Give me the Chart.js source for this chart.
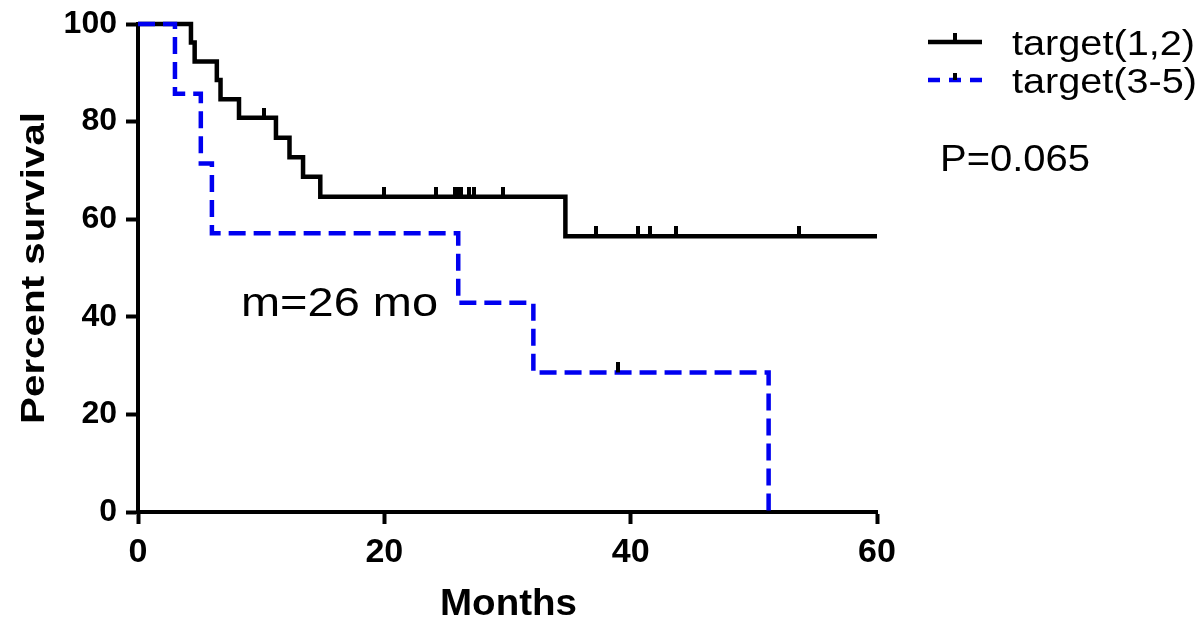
<!DOCTYPE html>
<html>
<head>
<meta charset="utf-8">
<script src="https://cdn.jsdelivr.net/npm/chart.js@4/dist/chart.umd.min.js"></script>
<style>
  body { margin: 0; background: #fff; }
  #wrap { width: 1200px; height: 627px; }
</style>
</head>
<body>
<div id="wrap"><canvas id="km" width="1200" height="627"></canvas></div>
<script>
// Kaplan-Meier steps (months, percent survival)
const grupo12Tempos = [0, 4.3, 4.6, 6.4, 6.7, 8.2, 11.2, 12.3, 13.4, 14.8, 34.7, 60];
const grupo12Sobrev = [100, 96.2, 92.3, 88.5, 84.6, 80.8, 76.7, 72.7, 68.7, 64.6, 56.5, 56.5];
const grupo12Censura = [10.2, 20.0, 24.2, 25.7, 26.0, 26.2, 26.9, 27.3, 29.6, 37.2, 40.6, 41.6, 43.7, 53.7];

const grupo35Tempos = [0, 3.0, 5.1, 6.0, 26.0, 32.1, 51.2];
const grupo35Sobrev = [100, 85.7, 71.4, 57.1, 42.9, 28.6, 0];
const grupo35Censura = [39.0];

const ticksX = [0, 20, 40, 60];
const ticksY = [0, 20, 40, 60, 80, 100];

const nomes = ['target(1,2)', 'target(3-5)'];
const textoP = 'P=0.065';
const textoMediana = 'm=26 mo';

const FONTE = '"Liberation Sans", Arial, sans-serif';
const AZUL = '#0000f0';

// valor da curva no tempo t (degrau)
function sobrevEm(tempos, sobrev, t) {
    let s = sobrev[0];
    for (let i = 0; i < tempos.length; i++) {
        if (tempos[i] <= t) s = sobrev[i];
    }
    return s;
}

function pontos(tempos, sobrev) {
    return tempos.map((t, i) => ({ x: t, y: sobrev[i] }));
}

function censuras(lista, tempos, sobrev) {
    return lista.map(t => ({ x: t, y: sobrevEm(tempos, sobrev, t) }));
}

// marca de censura: risquinho vertical só para cima
function marcaCensura() {
    const c = document.createElement('canvas');
    c.width = 4; c.height = 20;
    const g = c.getContext('2d');
    g.fillStyle = '#000';
    g.fillRect(0, 0, 4, 10);
    return c;
}
const marca = marcaCensura();

// texto esticado na horizontal para bater com a largura do original
function textoLargura(ctx, txt, x, y, fonte, largura) {
    ctx.save();
    ctx.font = fonte;
    const w = ctx.measureText(txt).width;
    ctx.translate(x, y);
    ctx.scale(largura / w, 1);
    ctx.textAlign = 'left';
    ctx.textBaseline = 'alphabetic';
    ctx.fillStyle = '#000';
    ctx.fillText(txt, 0, 0);
    ctx.restore();
}

const anotacoes = {
    id: 'anotacoes',
    afterDraw(chart) {
        const ctx = chart.ctx;
        const area = chart.chartArea;

        // titulo do eixo y (vertical)
        ctx.save();
        ctx.translate(44, (area.top + area.bottom) / 2);
        ctx.rotate(-Math.PI / 2);
        ctx.font = 'bold 34px ' + FONTE;
        const wy = ctx.measureText('Percent survival').width;
        ctx.scale(312 / wy, 1);
        ctx.textAlign = 'center';
        ctx.fillStyle = '#000';
        ctx.fillText('Percent survival', 0, 0);
        ctx.restore();

        // titulo do eixo x
        textoLargura(ctx, 'Months', 440, 615, 'bold 36px ' + FONTE, 137);

        // mediana
        textoLargura(ctx, textoMediana, 241, 316, '40px ' + FONTE, 197);

        // legenda
        const lx0 = 928, lx1 = 982;
        const linhas = [42, 80];
        ctx.save();
        ctx.lineWidth = 4.5;
        ctx.strokeStyle = '#000';
        ctx.beginPath();
        ctx.moveTo(lx0, linhas[0]); ctx.lineTo(lx1, linhas[0]);
        ctx.stroke();
        ctx.fillStyle = '#000';
        ctx.fillRect(953, linhas[0] - 9, 4, 9);

        ctx.strokeStyle = AZUL;
        ctx.setLineDash([12, 9]);
        ctx.beginPath();
        ctx.moveTo(lx0, linhas[1]); ctx.lineTo(lx1, linhas[1]);
        ctx.stroke();
        ctx.setLineDash([]);
        ctx.fillStyle = '#000';
        ctx.fillRect(953, linhas[1] - 7, 4, 7);
        ctx.restore();

        textoLargura(ctx, nomes[0], 1012, linhas[0] + 13, '35px ' + FONTE, 183);
        textoLargura(ctx, nomes[1], 1012, linhas[1] + 13, '35px ' + FONTE, 185);
        textoLargura(ctx, textoP, 940, 171, '36px ' + FONTE, 150);
    }
};

new Chart(document.getElementById('km'), {
    type: 'line',
    data: {
        datasets: [
            {
                label: nomes[1] + ' censura',
                type: 'scatter',
                data: censuras(grupo35Censura, grupo35Tempos, grupo35Sobrev),
                pointStyle: marca,
                clip: false,
                order: 0
            },
            {
                label: nomes[0] + ' censura',
                type: 'scatter',
                data: censuras(grupo12Censura, grupo12Tempos, grupo12Sobrev),
                pointStyle: marca,
                clip: false,
                order: 0
            },
            {
                label: nomes[1],
                data: pontos(grupo35Tempos, grupo35Sobrev),
                stepped: 'before',
                borderColor: AZUL,
                borderWidth: 4.5,
                borderDash: [17, 8],
                pointRadius: 0,
                fill: false,
                clip: false,
                order: 1
            },
            {
                label: nomes[0],
                data: pontos(grupo12Tempos, grupo12Sobrev),
                stepped: 'before',
                borderColor: '#000',
                borderWidth: 4.5,
                pointRadius: 0,
                fill: false,
                clip: false,
                order: 2
            }
        ]
    },
    options: {
        responsive: false,
        animation: false,
        devicePixelRatio: 1,
        layout: { padding: { top: 24, right: 323, left: 0, bottom: 0 } },
        plugins: {
            legend: { display: false },
            tooltip: { enabled: false }
        },
        scales: {
            x: {
                type: 'linear',
                min: 0,
                max: 60,
                afterFit: s => { s.height = 115; s.paddingLeft = 0; s.paddingRight = 0; },
                afterBuildTicks: s => { s.ticks = ticksX.map(v => ({ value: v })); },
                grid: { drawOnChartArea: false, drawTicks: true, tickLength: 12, tickWidth: 4, tickColor: '#000' },
                border: { color: '#000', width: 4 },
                ticks: { color: '#000', padding: 8, font: { family: FONTE, size: 34, weight: 'bold' } }
            },
            y: {
                min: 0,
                max: 100,
                afterFit: s => { s.width = 138; s.paddingTop = 0; s.paddingBottom = 0; },
                afterBuildTicks: s => { s.ticks = ticksY.map(v => ({ value: v })); },
                grid: { drawOnChartArea: false, drawTicks: true, tickLength: 12, tickWidth: 4, tickColor: '#000' },
                border: { color: '#000', width: 4 },
                ticks: { color: '#000', padding: 9, font: { family: FONTE, size: 32, weight: 'bold' } }
            }
        }
    },
    plugins: [anotacoes]
});
</script>
</body>
</html>
